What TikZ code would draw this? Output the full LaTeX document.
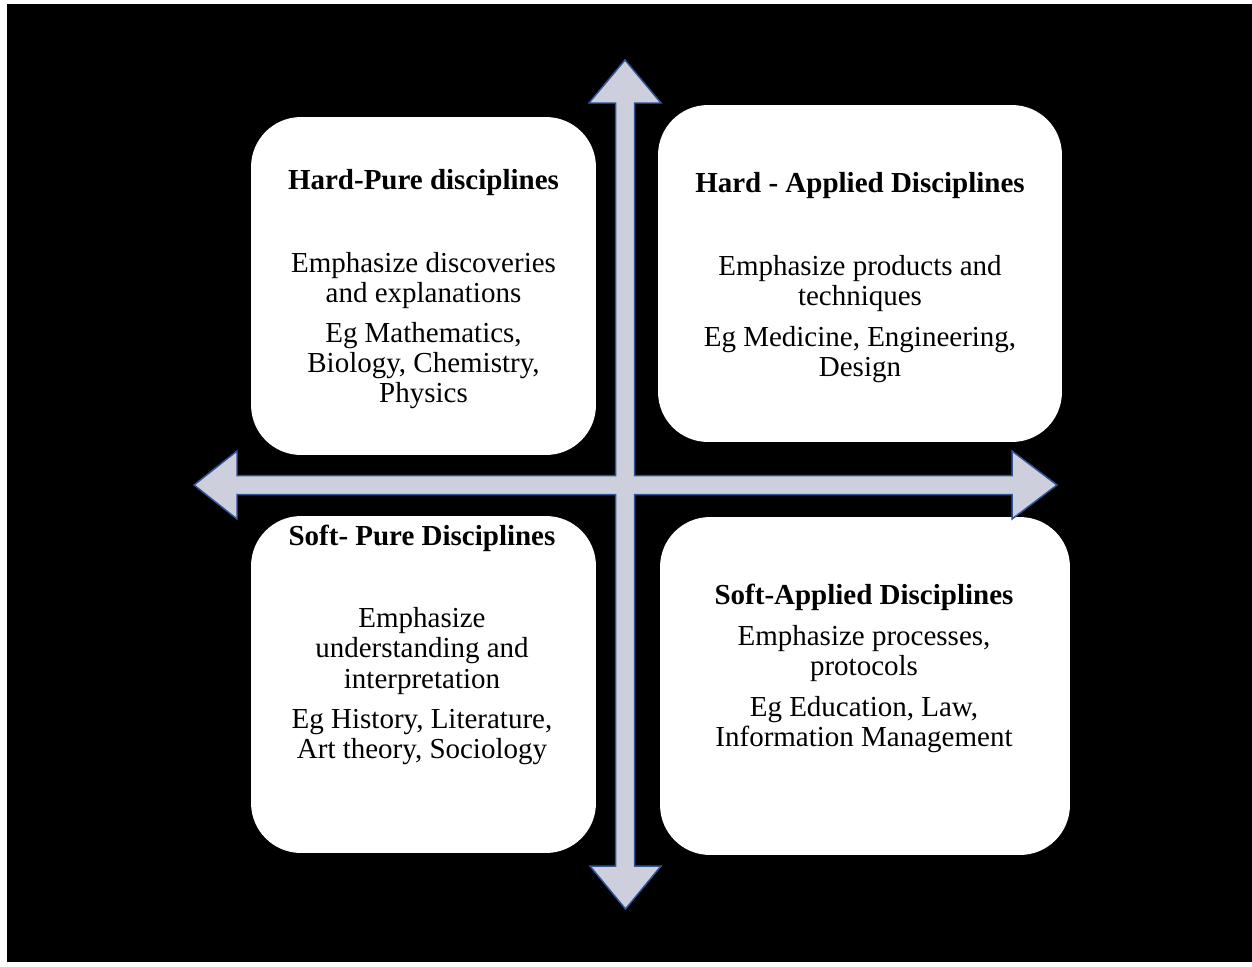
\documentclass[tikz,border=0pt]{standalone}
\usepackage{fontspec}
\setmainfont{Liberation Serif}
\definecolor{axisfill}{HTML}{CDD0DC}
\definecolor{axisline}{HTML}{2F5597}
\tikzset{
	card/.style={fill=white, draw=none, rounded corners=1cm, inner sep=0pt},
	head/.style={font=\fontsize{16.5}{17.1}\selectfont\bfseries, align=center, inner sep=0pt},
	body/.style={font=\fontsize{16.5}{17.1}\selectfont, align=center, inner sep=0pt}
}

\begin{document}
\begin{tikzpicture}[x=0.02cm, y=-0.02cm]
			%%%%% START %%%%%
			
			\useasboundingbox (0, 0) rectangle (1252, 967);
			\fill[white] (0, 0) rectangle (1252, 967);
			\fill[black] (7, 4) rectangle (1252, 962);
			
			% the four quadrants
			\node[card, minimum width=6.9cm, minimum height=6.76cm] (hardpure) at (423.5, 286) {};
			\node[card, minimum width=8.08cm, minimum height=6.74cm] (hardapplied) at (860, 273.5) {};
			\node[card, minimum width=6.9cm, minimum height=6.74cm] (softpure) at (423.5, 684.5) {};
			\node[card, minimum width=8.2cm, minimum height=6.76cm] (softapplied) at (865, 686) {};
			
			% crossing double arrows
			\draw[axisline, fill=axisfill, line width=0.85pt, line join=miter]
				(625, 60) -- (661, 103) -- (634.5, 103) -- (634.5, 475.5)
				-- (1012, 475.5) -- (1012, 451) -- (1057, 485) -- (1012, 519) -- (1012, 494.5)
				-- (634.5, 494.5) -- (634.5, 866) -- (661, 866) -- (625.5, 909) -- (590, 866) -- (615.5, 866)
				-- (615.5, 494.5) -- (237, 494.5) -- (237, 519) -- (194, 485) -- (237, 451) -- (237, 475.5)
				-- (615.5, 475.5) -- (615.5, 103) -- (589, 103) -- cycle;
			
			% texts
			\node[head] (hardpure-title) at (423.5, 183) {Hard-Pure disciplines};
			\node[body] (hardpure-aim) at (423.5, 281) {Emphasize discoveries\\and explanations};
			\node[body] (hardpure-eg) at (423.5, 366) {Eg Mathematics,\\Biology, Chemistry,\\Physics};
			
			\node[head] (hardapplied-title) at (860, 186) {Hard - Applied Disciplines};
			\node[body] (hardapplied-aim) at (860, 284) {Emphasize products and\\techniques};
			\node[body] (hardapplied-eg) at (860, 355) {Eg Medicine, Engineering,\\Design};
			
			\node[head] (softpure-title) at (422, 538) {Soft- Pure Disciplines};
			\node[body] (softpure-aim) at (422, 651) {Emphasize\\understanding and\\interpretation};
			\node[body] (softpure-eg) at (422, 737) {Eg History, Literature,\\Art theory, Sociology};
			
			\node[head] (softapplied-title) at (864, 597) {Soft-Applied Disciplines};
			\node[body] (softapplied-aim) at (864, 654) {Emphasize processes,\\protocols};
			\node[body] (softapplied-eg) at (864, 725) {Eg Education, Law,\\Information Management};
			
			%%%%% END %%%%%
\end{tikzpicture}
\end{document}
